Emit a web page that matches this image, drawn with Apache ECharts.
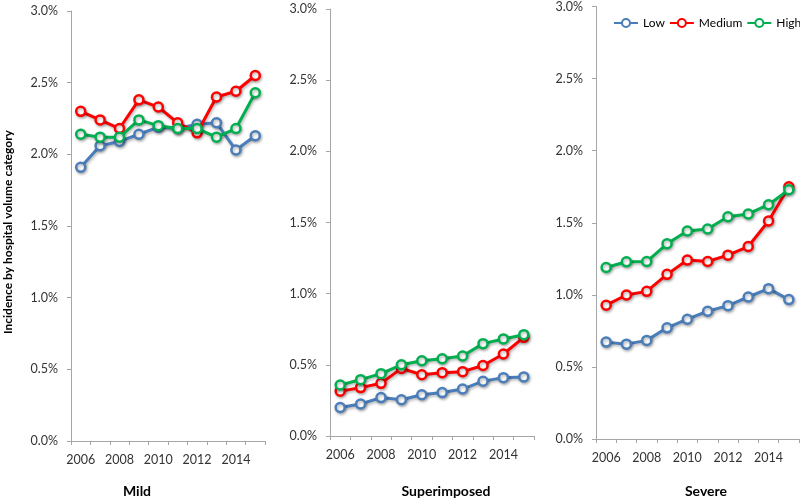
<!DOCTYPE html>
<html><head><meta charset="utf-8">
<script src="https://cdn.jsdelivr.net/npm/echarts@6/dist/echarts.min.js"></script>
<style>html,body{margin:0;padding:0;background:#fff}#c{width:800px;height:499px}</style>
</head><body><div id="c"></div>
<script>
var years = ['2006','2007','2008','2009','2010','2011','2012','2013','2014','2015'];
var yTicks = [0, 0.5, 1.0, 1.5, 2.0, 2.5, 3.0];
var panelTitles = ['Mild', 'Superimposed', 'Severe'];
var seriesNames = ['Low', 'Medium', 'High'];
var seriesColors = ['#4a7ebb', '#ff0000', '#00b050'];

var mildLow    = [1.91, 2.06, 2.09, 2.14, 2.19, 2.18, 2.21, 2.22, 2.03, 2.13];
var mildMedium = [2.30, 2.24, 2.18, 2.38, 2.33, 2.22, 2.15, 2.40, 2.44, 2.55];
var mildHigh   = [2.14, 2.12, 2.12, 2.24, 2.20, 2.18, 2.18, 2.12, 2.18, 2.43];

var supLow    = [0.20, 0.225, 0.27, 0.255, 0.29, 0.305, 0.33, 0.385, 0.41, 0.415];
var supMedium = [0.315, 0.34, 0.37, 0.475, 0.43, 0.445, 0.452, 0.495, 0.576, 0.693];
var supHigh   = [0.358, 0.396, 0.438, 0.50, 0.529, 0.543, 0.562, 0.649, 0.682, 0.712];

var sevLow    = [0.672, 0.658, 0.684, 0.771, 0.831, 0.886, 0.925, 0.985, 1.043, 0.967];
var sevMedium = [0.928, 0.999, 1.024, 1.142, 1.241, 1.231, 1.275, 1.335, 1.512, 1.749];
var sevHigh   = [1.19, 1.229, 1.231, 1.354, 1.443, 1.457, 1.542, 1.561, 1.625, 1.729];

var panelData = [[mildLow, mildMedium, mildHigh],[supLow, supMedium, supHigh],[sevLow, sevMedium, sevHigh]];

var grids = [
  {left: 71, top: 11, width: 194, height: 430},
  {left: 330, top: 9, width: 204, height: 427},
  {left: 596, top: 5, width: 203, height: 434}
];
var titlePos = [[137, 491], [446, 491], [706, 491]];
var font = 'Lato, "Open Sans", sans-serif';
var axisColor = '#a6a6a6';
var labelColor = '#333333';

var xAxes = [], yAxes = [], series = [], graphics = [];
for (var p = 0; p < 3; p++) {
  xAxes.push({
    type: 'category', gridIndex: p, data: years, boundaryGap: true,
    axisLine: {lineStyle: {color: axisColor, width: 1}},
    axisTick: {show: true, interval: 0, length: 4, lineStyle: {color: axisColor}},
    axisLabel: {interval: 1, margin: 12, color: labelColor, fontSize: 12.5, fontFamily: font},
    splitLine: {show: false}
  });
  yAxes.push({
    type: 'value', gridIndex: p, min: yTicks[0], max: yTicks[yTicks.length-1], interval: 0.5,
    axisLine: {show: true, lineStyle: {color: axisColor, width: 1}},
    axisTick: {show: true, length: 4, lineStyle: {color: axisColor}},
    axisLabel: {margin: 13, color: labelColor, fontSize: 12.5, fontFamily: font,
      formatter: function (v) { return v.toFixed(1) + '%'; }},
    splitLine: {show: false}
  });
  for (var s = 0; s < 3; s++) {
    series.push({
      name: seriesNames[s], type: 'line', xAxisIndex: p, yAxisIndex: p,
      data: panelData[p][s], symbol: 'circle', symbolSize: 9, showAllSymbol: true,
      z: 2 + s,
      lineStyle: {color: seriesColors[s], width: 3, shadowColor: 'rgba(0,0,0,0.3)', shadowBlur: 3, shadowOffsetX: 1, shadowOffsetY: 1.5},
      itemStyle: {color: '#ffffff', borderColor: seriesColors[s], borderWidth: 2.5, shadowColor: 'rgba(0,0,0,0.3)', shadowBlur: 3, shadowOffsetX: 1, shadowOffsetY: 1.5},
      emphasis: {disabled: true}, animation: false
    });
  }
  graphics.push({
    type: 'text', x: titlePos[p][0], y: titlePos[p][1],
    style: {text: panelTitles[p], font: 'bold 14px ' + font, fill: '#000', align: 'center', verticalAlign: 'middle'}
  });
}
graphics.push({
  type: 'text', x: 8, y: 232, rotation: Math.PI / 2,
  style: {text: 'Incidence by hospital volume category', font: 'bold 12px ' + font, fill: '#000', align: 'center', verticalAlign: 'middle'}
});

var chart = echarts.init(document.getElementById('c'), null, {renderer: 'canvas'});
chart.setOption({
  animation: false,
  backgroundColor: '#ffffff',
  grid: grids,
  xAxis: xAxes,
  yAxis: yAxes,
  legend: {
    data: seriesNames, orient: 'horizontal', left: 608, top: 12, width: 400,
    itemWidth: 24, itemHeight: 10, itemGap: 4,
    textStyle: {fontSize: 12, fontFamily: font, color: '#000'}
  },
  graphic: graphics,
  series: series
});
</script></body></html>
